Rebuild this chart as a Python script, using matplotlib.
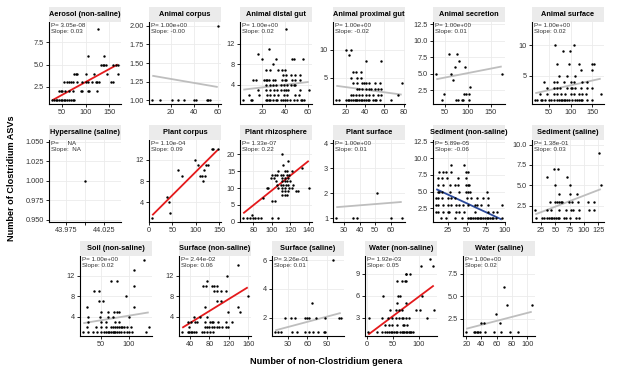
import matplotlib.pyplot as plt
import numpy as np

plt.rcParams['font.family'] = ['Liberation Sans', 'DejaVu Sans']

# points per panel: {y value: [x values]}
aerosol = {1: [29, 32, 36, 40, 43, 47, 50, 54, 57, 61, 64, 68, 72, 75],
           2: [43, 47, 50, 57, 64, 72, 89, 93, 104, 107, 125],
           3: [54, 61, 64, 68, 72, 82, 93, 100, 104, 114, 121, 125, 129, 154, 157],
           4: [75, 79, 82, 100, 118, 146, 168],
           5: [132, 136, 139, 143, 157, 164, 168],
           6: [104, 138],
           9: [126]}
animal_corpus = {1: [4, 11, 21, 26, 31, 40, 41, 51, 52, 53],
                 2: [60]}
distal_gut = {1: [3, 10, 11, 23, 24, 26, 27, 29, 32, 33, 36, 38, 40, 42, 44, 48, 51, 54, 55, 57],
              2: [8, 17, 24, 27, 30, 34, 39, 42, 49, 52],
              3: [16, 23, 27, 30, 33, 36, 39, 41, 43, 53, 61],
              4: [23, 27, 29, 32, 36, 39, 42, 45, 48, 49],
              5: [12, 14, 21, 23, 24, 26, 29, 31, 37, 40, 41, 46, 49, 53],
              6: [38, 41, 45, 49, 53],
              7: [23, 27, 34, 37, 40],
              8: [29],
              9: [20, 32, 46, 48, 56],
              10: [16],
              11: [26],
              15: [41]}
proximal_gut = {1: [10, 13, 20, 22, 23, 25, 27, 29, 30, 32, 34, 36, 37, 39, 41, 43, 44, 48, 50, 51, 55, 67],
                2: [25, 27, 30, 34, 37, 41, 44, 48, 53, 56, 74],
                3: [32, 34, 37, 41, 44, 46, 50, 53, 56],
                4: [27, 32, 37, 39, 41, 44, 50, 55, 78],
                5: [25, 32, 36],
                6: [27, 30, 36],
                8: [41, 56],
                9: [23],
                10: [20, 25]}
secretion = {1: [44, 75, 80, 87, 91, 102],
             2: [48, 92, 96, 103],
             3: [106],
             4: [68],
             5: [32, 64, 174],
             6: [72, 95],
             7: [82],
             8: [59, 77]}
animal_surface = {1: [19, 23, 31, 35, 42, 50, 54, 61, 69, 73, 77, 81, 85, 88, 92, 96, 104, 111, 115, 119, 123, 127, 138, 150],
                  2: [29, 46, 61, 69, 77, 88, 100, 108, 119, 127, 135, 169],
                  3: [45, 61, 68, 75, 92, 100, 104, 111, 123, 138, 150],
                  4: [38, 61, 69, 85, 100, 108, 127, 138],
                  5: [73, 92, 111],
                  6: [123, 150],
                  7: [69, 96, 119, 150, 154],
                  9: [83, 98],
                  10: [65, 108]}
hypersaline = {1: [44]}
plant_corpus = {1: [7], 2: [44], 4: [43], 5: [39],
                8: [116], 9: [70, 109, 113, 120], 10: [63, 118],
                11: [104, 121, 126], 12: [99], 14: [134, 136, 147]}
rhizosphere = {1: [69, 73, 76, 80, 82, 85, 88, 100, 107],
               2: [78],
               6: [100, 103],
               7: [90],
               8: [111, 114, 116],
               9: [111, 114, 118, 126, 128],
               10: [95, 96, 107, 111, 114, 119, 122, 140],
               11: [106, 110, 112, 115, 117, 123],
               12: [105, 111, 114, 116, 120],
               13: [99, 102, 111, 114, 118],
               14: [100, 103, 106, 110, 112, 116, 119],
               15: [107, 114, 116, 122],
               16: [133],
               17: [112],
               18: [118],
               20: [111]}
plant_surface = {1: [25, 36, 38, 60, 67], 2: [51]}
sediment_ns = {1: [16, 23, 34, 44, 52, 54, 56, 58, 61, 63, 65, 67, 69, 72, 74, 76, 78, 80, 83, 85, 89, 96],
               2: [10, 12, 19, 25, 27, 36, 40, 46, 61, 78, 85, 90],
               3: [10, 12, 19, 26, 29, 36, 40, 45, 52, 61, 64, 69, 78, 96],
               4: [10, 12, 18, 25, 30, 34, 51, 56, 64, 71, 78],
               5: [12, 14, 18, 28, 40, 49, 52, 54, 77],
               6: [12, 19, 28, 34, 38, 49, 52, 53],
               7: [12, 17, 24, 38, 49],
               8: [14, 19, 23, 30, 49, 52],
               9: [30, 47]}
sediment_s = {1: [16, 27, 31, 35, 39, 42, 45, 48, 51, 54, 57, 65, 68, 75, 86, 91],
              2: [15, 35, 42, 57, 68, 77, 81, 91, 109, 118],
              3: [40, 50, 53, 56, 59, 62, 73, 79, 89, 106, 118],
              4: [56, 75, 88],
              5: [50, 75, 129],
              6: [35, 71],
              7: [48, 54],
              9: [126]}
soil = {1: [19, 28, 37, 44, 50, 55, 59, 62, 65, 68, 71, 74, 76, 79, 82, 85, 91, 96, 100, 106, 131],
        2: [25, 41, 50, 59, 68, 72, 76, 79, 82, 85, 88, 91, 97, 103, 135],
        3: [28, 50, 59, 76, 82],
        4: [28, 49, 63, 71, 100],
        5: [51, 63, 74, 78, 82],
        6: [25, 109],
        7: [47, 54],
        8: [95],
        9: [38, 46],
        10: [109],
        11: [69, 79],
        13: [109],
        15: [126]}
surface_ns = {1: [24, 35, 38, 42, 45, 49, 52, 64, 69, 76, 82, 88],
              2: [38, 70, 76, 80, 85, 89, 95, 100, 105, 114, 119],
              3: [35, 42, 51, 55, 70, 81, 85, 88, 98, 115, 126],
              4: [49, 60, 76],
              5: [119, 144],
              6: [70, 138],
              7: [95, 104],
              8: [159],
              9: [89, 96, 104, 115],
              10: [67, 73, 85, 89, 95],
              11: [75],
              12: [116],
              14: [139]}
surface_s = {1: [10, 14, 19, 36, 44, 57, 63, 69, 77, 86, 88],
             2: [25, 34, 41, 57, 59, 63, 73, 88, 109, 112],
             3: [67],
             6: [100]}
water_ns = {1: [3, 19, 29, 36, 40, 43, 46, 49, 52, 56, 59, 65, 68, 70, 72, 75, 78, 81, 84, 86, 90],
            2: [36, 43, 49, 59, 70, 72, 78],
            3: [5, 29, 41, 49, 56, 62, 68, 70, 75, 81, 117],
            4: [44, 56, 62, 68, 94, 102, 129],
            5: [59, 75],
            6: [32, 60, 65, 107],
            8: [58, 68, 73, 75],
            9: [75, 76, 83],
            10: [105, 128],
            11: [122]}
water_s = {1: [20, 30, 32, 34, 36, 38, 45, 56, 65, 77, 88],
           2: [40, 43, 64],
           3: [59],
           4: [73, 106],
           6: [70]}

names = ["Aerosol (non-saline)", "Animal corpus", "Animal distal gut", "Animal proximal gut",
         "Animal secretion", "Animal surface", "Hypersaline (saline)", "Plant corpus",
         "Plant rhizosphere", "Plant surface", "Sediment (non-saline)", "Sediment (saline)",
         "Soil (non-saline)", "Surface (non-saline)", "Surface (saline)", "Water (non-saline)",
         "Water (saline)"]
points = [aerosol, animal_corpus, distal_gut, proximal_gut, secretion, animal_surface,
          hypersaline, plant_corpus, rhizosphere, plant_surface, sediment_ns, sediment_s,
          soil, surface_ns, surface_s, water_ns, water_s]
p_labels = ["3.05e-08", "1.00e+00", "1.00e+00", "1.00e+00", "1.00e+00", "1.00e+00", "    NA",
            "1.10e-04", "1.33e-07", "1.00e+00", "5.89e-05", "1.38e-01", "1.00e+00", "2.44e-02",
            "3.26e-01", "1.92e-03", "1.00e+00"]
slope_labels = ["0.03", "-0.00", "0.02", "-0.02", "0.01", "0.02", " NA", "0.09", "0.22", "0.01",
                "-0.06", "0.03", "0.02", "0.06", "0.01", "0.05", "0.02"]
# fitted line (intercept, slope); None = no line
fit_b0 = [0.16, 1.34, 3.0, 3.8, 3.75, 1.86, None, 0.96, -12.7, 1.32, 5.9, 1.07, 2.44, 0.5, 1.02, 0.54, 0.96]
fit_b1 = [0.029, -0.0027, 0.026, -0.023, 0.0136, 0.0158, None, 0.0876, 0.22, 0.005, -0.053, 0.027,
          0.018, 0.058, 0.0118, 0.053, 0.022]
fit_kind = ["up", "ns", "ns", "ns", "ns", "ns", None, "up", "up", "ns", "down", "ns", "ns", "up",
            "ns", "up", "ns"]
x_ticks = [["50", "100", "150"], ["20", "40", "60"], ["20", "40", "60"], ["20", "40", "60", "80"],
           ["50", "100", "150"], ["50", "100", "150"], ["43.975", "44.000", "44.025"],
           ["0", "50", "100", "150"], ["80", "100", "120", "140"], ["30", "40", "50", "60"],
           ["25", "50", "75", "100"], ["25", "50", "75", "100", "125"], ["50", "100"],
           ["40", "80", "120", "160"], ["30", "60", "90", "120"], ["0", "50", "100"],
           ["20", "40", "60", "80", "100"]]
y_ticks = [["2.5", "5.0", "7.5"], ["1.00", "1.25", "1.50", "1.75", "2.00"], ["4", "8", "12"],
           ["5", "10"], ["2.5", "5.0", "7.5", "10.0", "12.5"], ["5", "10"],
           ["0.950", "0.975", "1.000", "1.025", "1.050"], ["4", "8", "12"], ["0", "5", "10", "15", "20"],
           ["1", "2", "3", "4"], ["2.5", "5.0", "7.5", "10.0", "12.5"], ["2.5", "5.0", "7.5", "10.0"],
           ["4", "8", "12"], ["4", "8", "12"], ["2", "4", "6"], ["3", "6", "9"], ["2.5", "5.0", "7.5"]]
y_tops = [9.8, 2.05, 16.3, 14.9, 12.85, 13.8, 1.052, 15.7, 24.3, 4.14, 12.75, 10.55, 15.8, 15.8,
          6.28, 11.4, 9.5]
hidden_ticks = {"44.000"}

line_colors = {"up": "#E41A1C", "down": "#2B4A9B", "ns": "#BEBEBE"}

# layout in pixels
W, H = 617, 383
PW = 72
row_tops = [22, 140, 256]
row_bottoms = [104, 222, 336]
SH = 15
col_lefts = [[49, 149, 240, 333, 433, 532], [49, 149, 240, 333, 433, 532], [80, 179, 272, 365, 463]]
slots = [(r, c) for r in range(3) for c in range(len(col_lefts[r]))]

fig = plt.figure(figsize=(W / 100, H / 100), dpi=100)

for i, name in enumerate(names):
    r, c = slots[i]
    left = col_lefts[r][c]
    top, bottom = row_tops[r], row_bottoms[r]
    ax = fig.add_axes([left / W, 1 - bottom / H, PW / W, (bottom - top) / H])

    xs, ys = [], []
    for yv, xl in points[i].items():
        xs += xl
        ys += [yv] * len(xl)
    xs = np.array(xs, dtype=float)
    ys = np.array(ys, dtype=float)
    ax.scatter(xs, ys, s=3, color="black", linewidths=0, zorder=3)

    if fit_b0[i] is not None:
        xx = np.array([xs.min(), xs.max()])
        ax.plot(xx, fit_b0[i] + fit_b1[i] * xx, color=line_colors[fit_kind[i]], lw=1.3,
                zorder=2, solid_capstyle="butt")

    xt = [float(t) for t in x_ticks[i]]
    yt = [float(t) for t in y_ticks[i]]
    ax.set_xticks(xt)
    ax.set_xticklabels(["" if t in hidden_ticks else t for t in x_ticks[i]])
    ax.set_yticks(yt)
    ax.set_yticklabels(y_ticks[i])

    if len(xs) > 1:
        rng = xs.max() - xs.min()
        ax.set_xlim(xs.min() - 0.05 * rng, xs.max() + 0.05 * rng)
        yr = (y_tops[i] - ys.min()) / 1.05
        ax.set_ylim(ys.min() - 0.05 * yr, y_tops[i])
    else:
        ax.set_xlim(43.952, 44.048)
        ax.set_ylim(0.947, y_tops[i])

    ax.grid(True, color="#EBEBEB", lw=0.6, zorder=0)
    ax.set_axisbelow(True)
    for s in ["top", "right"]:
        ax.spines[s].set_visible(False)
    for s in ["left", "bottom"]:
        ax.spines[s].set_linewidth(0.8)
    ax.tick_params(labelsize=5.3, length=2, width=0.6, pad=1.5, labelcolor="#333333")

    ax.text(0.03, 0.985, "P= " + p_labels[i] + "\nSlope: " + slope_labels[i],
            transform=ax.transAxes, ha="left", va="top", fontsize=4.5, color="#333333",
            linespacing=1.1)

    sax = fig.add_axes([left / W, 1 - top / H, PW / W, SH / H])
    sax.set_facecolor("#EBEBEB")
    sax.set_xticks([])
    sax.set_yticks([])
    for sp in sax.spines.values():
        sp.set_visible(False)
    sax.text(0.5, 0.5, name, ha="center", va="center", fontsize=5.3, fontweight="bold")

fig.text(326 / W, 1 - 362 / H, "Number of non-Clostridium genera", ha="center", va="center",
         fontsize=6.6, fontweight="bold")
fig.text(12 / W, 1 - 178 / H, "Number of Clostridium ASVs", ha="center", va="center",
         rotation=90, fontsize=6.6, fontweight="bold")

fig.savefig("out.png", dpi=100)
